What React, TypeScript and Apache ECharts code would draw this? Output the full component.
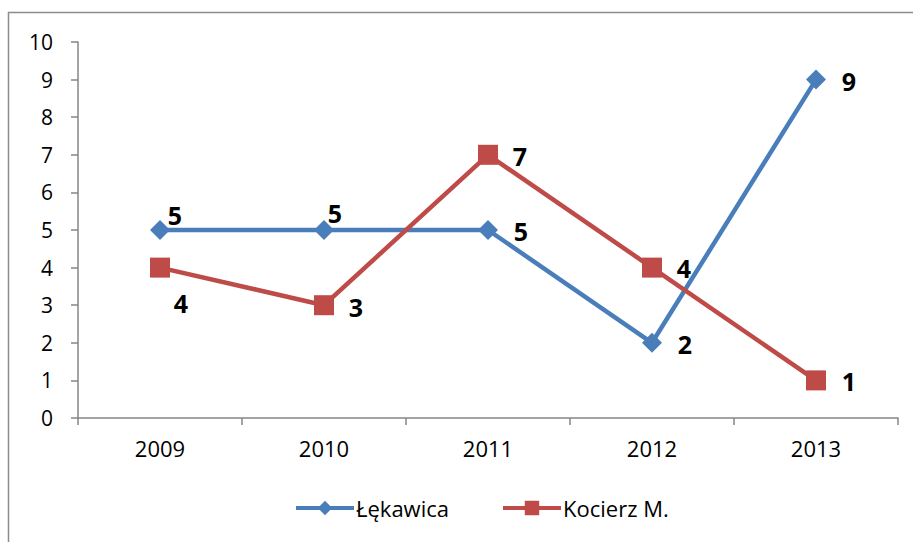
import React, { useEffect, useRef } from "react";
import * as echarts from "echarts";

const years = ["2009", "2010", "2011", "2012", "2013"];
const lekawica = [5, 5, 5, 2, 9];
const kocierz = [4, 3, 7, 4, 1];
const lekawicaLabelOffsets = [[15, -15], [11, -17], [33, 1], [33, 1], [33, 1]];
const kocierzLabelOffsets = [[21, 35], [32, 2], [32, 1], [32, 0], [33, 1]];

const FONT = "'Open Sans', 'Noto Sans', sans-serif";

export default function App() {
  const ref = useRef<HTMLDivElement>(null);
  useEffect(() => {
    if (!ref.current) return;
    const chart = echarts.init(ref.current, undefined, { renderer: "svg" });
    const mk = (vals: number[], offs: number[][]) =>
      vals.map((v, i) => ({
        value: v,
        label: { offset: offs[i] },
      }));
    chart.setOption({
      animation: false,
      backgroundColor: "#fff",
      graphic: [
        {
          type: "rect",
          shape: { x: 8.5, y: 12.5, width: 1000, height: 1000 },
          style: { fill: "none", stroke: "#8c8c8c", lineWidth: 1.5 },
          silent: true,
        },
      ],
      grid: { left: 78, right: 15, top: 42, bottom: 124 },
      legend: {
        bottom: 18,
        left: 289,
        itemWidth: 58,
        itemHeight: 18,
        itemGap: 52,
        lineStyle: { width: 4 },
        textStyle: { fontFamily: FONT, fontSize: 22, color: "#000", padding: [0, 0, 0, -3] },
        data: ["Łękawica", "Kocierz M."],
      },
      xAxis: {
        type: "category",
        data: years,
        boundaryGap: true,
        axisLine: { lineStyle: { color: "#868686", width: 1.5 } },
        axisTick: { show: true, length: 7, alignWithLabel: false, lineStyle: { color: "#868686", width: 1.5 } },
        axisLabel: { fontFamily: FONT, fontSize: 22, color: "#000", margin: 19 },
        splitLine: { show: false },
      },
      yAxis: {
        type: "value",
        min: 0,
        max: 10,
        interval: 1,
        axisLine: { show: true, lineStyle: { color: "#868686", width: 1.5 } },
        axisTick: { show: true, length: 7, lineStyle: { color: "#868686", width: 1.5 } },
        axisLabel: { fontFamily: FONT, fontSize: 21, color: "#000", margin: 25 },
        splitLine: { show: false },
      },
      series: [
        {
          name: "Łękawica",
          type: "line",
          data: mk(lekawica, lekawicaLabelOffsets),
          symbol: "diamond",
          symbolSize: 20,
          showAllSymbol: true,
          lineStyle: { color: "#4a7ebb", width: 4.5 },
          itemStyle: { color: "#4a7ebb" },
          label: {
            show: true,
            position: "inside",
            fontFamily: FONT,
            fontSize: 25,
            fontWeight: "bold",
            color: "#000",
          },
        },
        {
          name: "Kocierz M.",
          type: "line",
          data: mk(kocierz, kocierzLabelOffsets),
          symbol: "rect",
          symbolSize: 20,
          showAllSymbol: true,
          lineStyle: { color: "#be4b48", width: 4.5 },
          itemStyle: { color: "#be4b48" },
          label: {
            show: true,
            position: "inside",
            fontFamily: FONT,
            fontSize: 25,
            fontWeight: "bold",
            color: "#000",
          },
        },
      ],
    });
    return () => chart.dispose();
  }, []);
  return <div ref={ref} style={{ width: 913, height: 542, position: "absolute", left: 0, top: 0 }} />;
}
